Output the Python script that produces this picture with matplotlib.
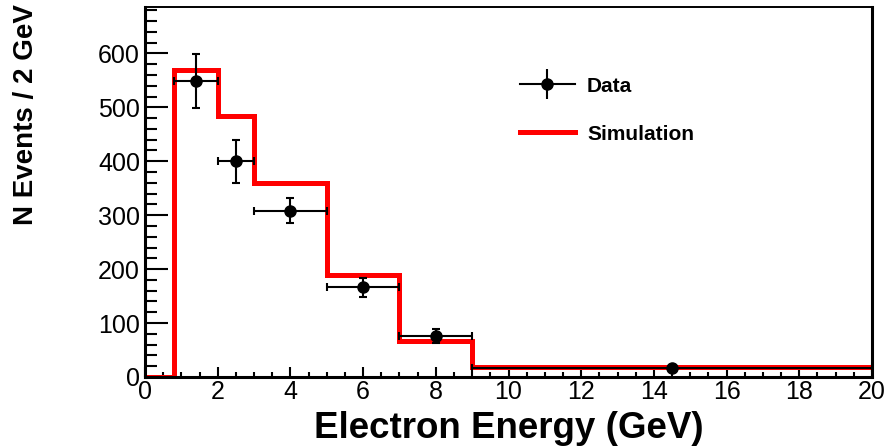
import matplotlib
matplotlib.use("Agg")
import matplotlib.pyplot as plt
from matplotlib.lines import Line2D
from matplotlib.ticker import MultipleLocator

# Simulated spectrum (bin edges and contents)
sim_edges = [0, 0.8, 2, 3, 5, 7, 9, 20]
sim_counts = [0, 570, 484, 360, 190, 67, 18]

# Measured points
data_x = [1.4, 2.5, 4.0, 6.0, 8.0, 14.5]
data_y = [548, 400, 308, 166, 76, 16]
data_xlo = [0.6, 0.5, 1.0, 1.0, 1.0, 5.5]
data_xhi = [0.6, 0.5, 1.0, 1.0, 1.0, 5.5]
data_yerr = [50, 40, 23, 18, 13, 4]

plt.rcParams["font.family"] = ["Liberation Sans", "DejaVu Sans"]

fig = plt.figure(figsize=(8.89, 4.46), dpi=100)
ax = fig.add_axes([145 / 889, 69 / 446, 727 / 889, 370 / 446])

sim = ax.stairs(sim_counts, sim_edges, baseline=None, color="#ff0000", lw=3.6,
                zorder=2)
ax.errorbar(data_x, data_y, xerr=[data_xlo, data_xhi], yerr=data_yerr,
            fmt="o", color="black", ms=8, lw=1.5, capsize=3.2, capthick=1.5,
            zorder=3)

ax.set_xlim(0, 20)
ax.set_ylim(0, 686)

ax.xaxis.set_major_locator(MultipleLocator(2))
ax.xaxis.set_minor_locator(MultipleLocator(0.5))
ax.yaxis.set_major_locator(MultipleLocator(100))
ax.yaxis.set_minor_locator(MultipleLocator(20))

ax.tick_params(which="both", direction="in", top=False, right=False,
               width=1.5, labelsize=18)
ax.tick_params(axis="y", which="major", length=16.5, pad=3.6)
ax.tick_params(axis="y", which="minor", length=8.3)
ax.tick_params(axis="x", which="major", length=7.2, pad=2)
ax.tick_params(axis="x", which="minor", length=3.6)

for side in ("left", "bottom", "right"):
    ax.spines[side].set_linewidth(2.2)
ax.spines["top"].set_linewidth(1.4)

ax.set_xlabel("Electron Energy (GeV)", fontsize=26.5, fontweight="bold")
ax.xaxis.set_label_coords(0.5, -0.093)
fig.text(26 / 889, 1 - 4 / 446, "N Events / 2 GeV", rotation=90,
         ha="center", va="top", fontsize=20, fontweight="bold")

# legend: data marker with crossed error bars, red line for simulation
data_handle = (Line2D([], [], color="black", lw=1.5, marker="o", ms=8),
               Line2D([], [], ls="none", color="black", marker="|", ms=21,
                      mew=1.5))
sim_handle = Line2D([], [], color="#ff0000", lw=3.6)
ax.legend([data_handle, sim_handle], ["Data", "Simulation"], loc="upper left",
          bbox_to_anchor=(0.502, 0.84), frameon=False, borderpad=0,
          handlelength=2.6, handletextpad=0.6, labelspacing=1.4,
          prop={"weight": "bold", "size": 15})

fig.savefig("out.png", dpi=100)
